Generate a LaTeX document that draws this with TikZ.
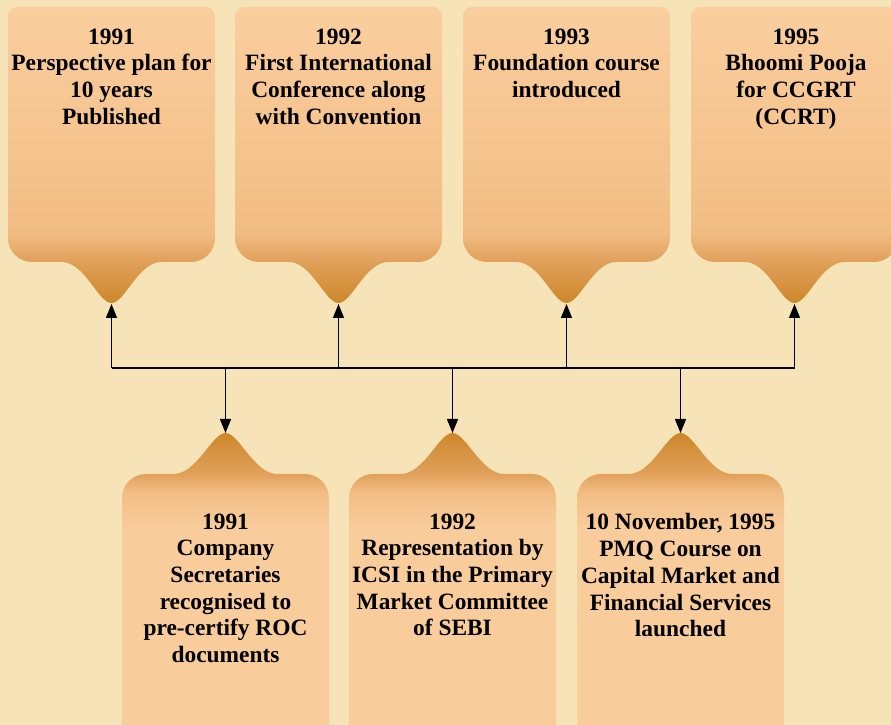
\documentclass[tikz,border=0pt]{standalone}
\usepackage{fontspec}
\setmainfont{Liberation Serif}
\usepackage{xcolor}
\usetikzlibrary{arrows.meta}

\definecolor{parchment}{RGB}{246,228,184}
\definecolor{peachtop}{RGB}{250,206,158}
\definecolor{peachmid}{RGB}{242,189,132}
\definecolor{peachlow}{RGB}{249,204,156}
\definecolor{ochremid}{RGB}{225,160,90}
\definecolor{ochretip}{RGB}{205,135,42}

\pgfdeclareverticalshading{downfade}{100bp}{color(0bp)=(ochretip); color(25bp)=(ochretip); color(32bp)=(ochremid); color(37bp)=(peachmid); color(75bp)=(peachtop); color(100bp)=(peachtop)}
\pgfdeclareverticalshading{upfade}{100bp}{color(0bp)=(peachlow); color(25bp)=(peachlow); color(60bp)=(peachlow); color(65.5bp)=(peachmid); color(68.5bp)=(ochremid); color(75bp)=(ochretip); color(100bp)=(ochretip)}

\tikzset{
  callout text/.style={font=\bfseries\fontsize{23.4}{26.7}\selectfont, align=center, anchor=north, inner sep=0pt},
  link/.style={line width=1.4pt, black},
  linkarrow/.style={link, -{Triangle[length=14pt,width=11pt]}}
}

% callout pointing down, #1 = left edge, #2 = name of the tip
\newcommand{\downcallout}[2]{%
  \shade[shading=downfade] ({#1+153.5},463) -- ({#1+183},463) arc[start angle=-90,end angle=0,radius=24pt]
    -- ({#1+207},709) arc[start angle=0,end angle=90,radius=9pt]
    -- ({#1+9},718) arc[start angle=90,end angle=180,radius=9pt]
    -- (#1,487) arc[start angle=180,end angle=270,radius=24pt]
    -- ({#1+53.5},463) .. controls ({#1+77},463) and ({#1+90},422) .. ({#1+103.5},422)
    .. controls ({#1+117},422) and ({#1+130},463) .. ({#1+153.5},463) -- cycle;
  \coordinate (#2) at ({#1+103.5},421);}

% callout pointing up, #1 = left edge, #2 = name of the tip
\newcommand{\upcallout}[2]{%
  \shade[shading=upfade] ({#1+51.5},251) .. controls ({#1+75},251) and ({#1+90},292) .. ({#1+103.5},292)
    .. controls ({#1+117},292) and ({#1+132},251) .. ({#1+155.5},251)
    -- ({#1+183},251) arc[start angle=90,end angle=0,radius=24pt]
    -- ({#1+207},-20) -- (#1,-20)
    -- (#1,227) arc[start angle=180,end angle=90,radius=24pt] -- cycle;
  \coordinate (#2) at ({#1+103.5},292);}

\begin{document}
\begin{tikzpicture}[x=1pt,y=1pt]
\useasboundingbox (0,0) rectangle (891,725);
\clip (0,0) rectangle (891,725);
\fill [parchment] (0,0) rectangle (891,725);

% upper row
\downcallout{8}{t1}
\downcallout{235}{t2}
\downcallout{463}{t3}
\downcallout{691}{t4}
% lower row
\upcallout{122}{b1}
\upcallout{349}{b2}
\upcallout{577}{b3}

\node [callout text] (plan) at (111.5,696.5) {1991\\Perspective plan for\\10 years\\Published};
\node [callout text] (conf) at (338.5,696.5) {1992\\First International\\Conference along\\with Convention};
\node [callout text] (found) at (566.5,696.5) {1993\\Foundation course\\introduced};
\node [callout text] (pooja) at (796,696.5) {1995\\Bhoomi Pooja\\for CCGRT\\(CCRT)};
\node [callout text] (roc) at (225.5,211.5) {1991\\Company\\Secretaries\\recognised to\\pre-certify ROC\\documents};
\node [callout text] (sebi) at (452.5,211.5) {1992\\Representation by\\ICSI in the Primary\\Market Committee\\of SEBI};
\node [callout text] (pmq) at (680.5,211.5) {10 November, 1995\\PMQ Course on\\Capital Market and\\Financial Services\\launched};

% connectors
\coordinate (bus) at (0,357);
\draw [link] (t1 |- bus) -- (t4 |- bus);
\foreach \t in {t1,t2,t3,t4,b1,b2,b3}
  \draw [linkarrow] (\t |- bus) -- (\t);
\end{tikzpicture}
\end{document}
